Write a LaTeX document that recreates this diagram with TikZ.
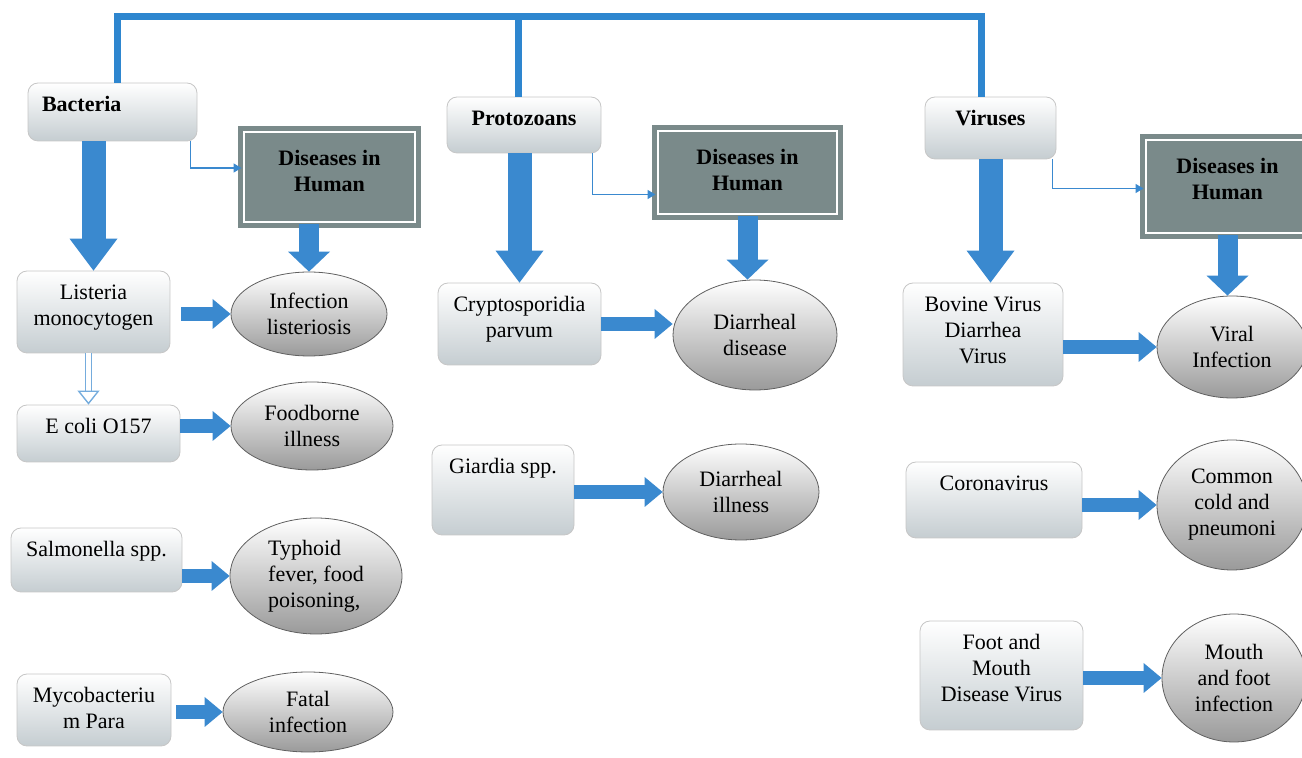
\documentclass[tikz,border=0pt]{standalone}
\usepackage{fontspec}
\setmainfont{Liberation Serif}
\newfontfamily\diagfont{Liberation Serif}
\usepackage{xcolor}
\usepackage{tikz}
\usetikzlibrary{shapes.geometric,arrows.meta}
\definecolor{flowblue}{HTML}{3A89CF}
\definecolor{busblue}{HTML}{2E86CF}
\definecolor{disgray}{HTML}{7A8A8A}
\definecolor{boxbottom}{HTML}{C5CDD1}
\definecolor{ellbottom}{HTML}{9A9A9A}
\newcommand{\cellbox}[3]{\parbox[c][#2][t]{#1}{\centering\strut#3}}

\begin{document}
\begin{tikzpicture}[x=0.5pt,y=-0.5pt,
  font=\diagfont\fontsize{11}{13}\selectfont,
  rbox/.style={draw=gray!45,rounded corners=5pt,top color=white,bottom color=boxbottom,inner sep=5pt},
  disbox/.style={draw=disgray,fill=disgray,line width=2.5pt,double=white,double distance=1pt,inner sep=7.5pt},
  ell/.style={ellipse,draw=gray!75!black,top color=white,bottom color=ellbottom,inner sep=0pt,align=center},
  bus/.style={draw=busblue,line width=3.5pt,line join=miter},
  bigdown/.style={draw=flowblue,line width=12pt,-{Triangle[width=24pt,length=16pt,line width=0pt]}},
  disdown/.style={draw=flowblue,line width=10pt,-{Triangle[width=21pt,length=10pt,line width=0pt]}},
  sidearrow/.style={draw=flowblue,line width=7pt,-{Triangle[width=15pt,length=9pt,line width=0pt]}},
  thinarrow/.style={draw=flowblue,line width=0.8pt,-{Triangle[width=4.5pt,length=4pt]}},
  hollow/.style={draw=flowblue!70,line width=0.7pt,double=white,double distance=2.4pt,-{Triangle[open,width=11pt,length=7pt]}}]
\useasboundingbox (0,0) rectangle (1302,758);
\clip (0,0) rectangle (1302,758);

\node[rbox] (bact) at (112.5,112) {\cellbox{74.5pt}{19pt}{\raggedright\hspace{2pt}\textbf{Bacteria}}};
\node[rbox] (proto) at (524,125) {\cellbox{67pt}{18pt}{\textbf{Protozoans}}};
\node[rbox] (vir) at (990.5,128) {\cellbox{55.5pt}{21pt}{\textbf{Viruses}}};

\node[disbox] (dis1) at (329.5,177) {\cellbox{70.5pt}{30pt}{\textbf{Diseases in\\Human}}};
\node[disbox] (dis2) at (747.5,172.5) {\cellbox{74.5pt}{26.5pt}{\textbf{Diseases in\\Human}}};
\node[disbox] (dis3) at (1227.5,186.5) {\cellbox{66.5pt}{31.5pt}{\textbf{Diseases in\\Human}}};

\node[rbox] (list) at (93.5,312) {\cellbox{66.5pt}{31pt}{Listeria\\monocytogen}};
\node[rbox] (ecoli) at (98.5,433.5) {\cellbox{71.5pt}{18.5pt}{E coli O157}};
\node[rbox] (salm) at (96.5,560) {\cellbox{75.5pt}{22pt}{Salmonella spp.}};
\node[rbox] (myco) at (94,710) {\cellbox{67pt}{26pt}{Mycobacteriu\\m Para}};
\node[rbox] (crypto) at (519.5,324) {\cellbox{71.5pt}{31pt}{Cryptosporidia\\parvum}};
\node[rbox] (giard) at (503,490) {\cellbox{61pt}{35pt}{Giardia spp.}};
\node[rbox] (bov) at (983,334.5) {\cellbox{70pt}{41.5pt}{Bovine Virus\\Diarrhea\\Virus}};
\node[rbox] (corona) at (994,500) {\cellbox{78pt}{28pt}{Coronavirus}};
\node[rbox] (foot) at (1001.5,675.5) {\cellbox{71.5pt}{44.5pt}{Foot and\\Mouth\\Disease Virus}};

\node[ell,minimum width=78pt,minimum height=42pt] (inf1) at (309,314) {Infection\\listeriosis};
\node[ell,minimum width=81pt,minimum height=44pt] (food) at (312,426) {Foodborne\\illness};
\node[ell,minimum width=86pt,minimum height=58pt,align=left] (typh) at (316,576) {Typhoid\\fever, food\\poisoning,};
\node[ell,minimum width=85pt,minimum height=40pt] (fatal) at (308,712) {Fatal\\infection};
\node[ell,minimum width=82pt,minimum height=55pt] (diar1) at (755,335) {Diarrheal\\disease};
\node[ell,minimum width=78pt,minimum height=48pt] (diar2) at (741,492) {Diarrheal\\illness};
\node[ell,minimum width=75pt,minimum height=51pt] (viral) at (1232,347) {Viral\\Infection};
\node[ell,minimum width=75pt,minimum height=65pt] (cold) at (1232,505) {Common\\cold and\\pneumoni};
\node[ell,minimum width=72pt,minimum height=64pt] (mouth) at (1234,678) {Mouth\\and foot\\infection};

\coordinate (busl) at (117,17);
\coordinate (busm) at (518,17);
\coordinate (busr) at (981,17);
\draw[bus] (bact.north -| busl) -- (busl) -- (busr) -- (vir.north -| busr);
\draw[bus] (busm) -- (proto.north -| busm);

\draw[thinarrow] ([xshift=-3.5pt]bact.south east) |- ([yshift=4.5pt]dis1.west);
\draw[thinarrow] ([xshift=-4.5pt]proto.south east) |- ([yshift=-11pt]dis2.west);
\draw[thinarrow] ([xshift=-2pt]vir.south east) |- ([yshift=-1pt]dis3.west);

\draw[bigdown] (bact.south -| list.north) -- (list.north);
\draw[bigdown] (proto.south -| crypto.north) -- (crypto.north);
\draw[bigdown] (vir.south) -- (vir.south |- bov.north);

\draw[disdown] (dis1.south -| inf1.north) -- (inf1.north);
\draw[disdown] (dis2.south) -- (dis2.south |- diar1.north);
\draw[disdown] (dis3.south) -- (dis3.south |- viral.north);

\draw[sidearrow,shorten <=5.5pt] (list.east |- inf1.west) -- (inf1.west);
\draw[sidearrow] (ecoli.east |- food.west) -- (food.west);
\draw[sidearrow] (salm.east |- typh.west) -- (typh.west);
\draw[sidearrow,shorten <=2.5pt] (myco.east |- fatal.west) -- (fatal.west);
\draw[sidearrow] (crypto.east) -- (crypto.east -| diar1.west);
\draw[sidearrow] (giard.east |- diar2.west) -- (diar2.west);
\draw[sidearrow] (bov.east |- viral.west) -- (viral.west);
\draw[sidearrow] (corona.east |- cold.west) -- (cold.west);
\draw[sidearrow] (foot.east |- mouth.west) -- (mouth.west);

\draw[hollow] ([xshift=-2.5pt]list.south) -- ([xshift=-2.5pt]list.south |- ecoli.north);
\end{tikzpicture}
\end{document}
